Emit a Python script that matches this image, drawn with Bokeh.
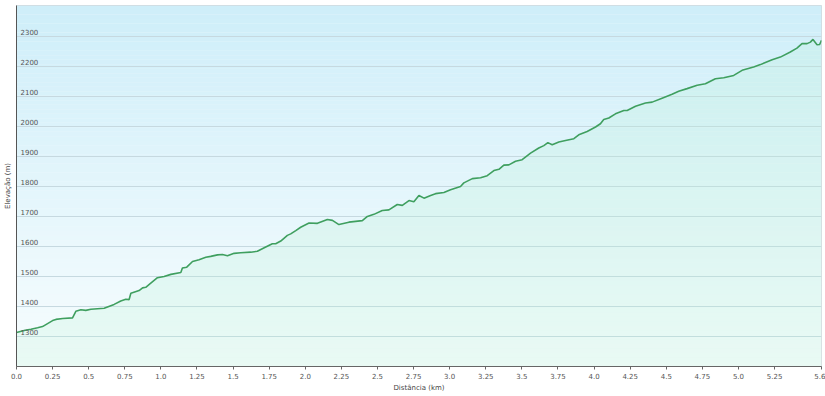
import numpy as np
from bokeh.plotting import figure
from bokeh.models import ColumnDataSource, FixedTicker, Range1d
from bokeh.core.properties import value
from bokeh.embed import file_html
from bokeh.resources import INLINE

# ---- data ----
dist_km = [0.0, 0.06, 0.10, 0.146, 0.18, 0.25, 0.273, 0.32, 0.388, 0.411, 0.446, 0.48, 0.515,
           0.607, 0.676, 0.722, 0.757, 0.78, 0.792, 0.849, 0.873, 0.895, 0.93, 0.976, 1.022,
           1.069, 1.138, 1.149, 1.179, 1.219, 1.264, 1.311, 1.345, 1.392, 1.426, 1.461, 1.507,
           1.553, 1.622, 1.668, 1.726, 1.772, 1.795, 1.830, 1.876, 1.899, 1.934, 1.968, 2.026,
           2.084, 2.153, 2.188, 2.233, 2.302, 2.395, 2.43, 2.475, 2.533, 2.579, 2.637, 2.672,
           2.718, 2.752, 2.787, 2.822, 2.868, 2.902, 2.96, 3.006, 3.075, 3.098, 3.157, 3.214,
           3.26, 3.306, 3.341, 3.375, 3.41, 3.456, 3.502, 3.56, 3.617, 3.652, 3.68, 3.71, 3.756,
           3.802, 3.86, 3.894, 3.952, 4.01, 4.044, 4.067, 4.102, 4.148, 4.206, 4.229, 4.287,
           4.356, 4.402, 4.471, 4.54, 4.586, 4.644, 4.714, 4.771, 4.84, 4.898, 4.967, 5.025,
           5.105, 5.152, 5.233, 5.29, 5.359, 5.405, 5.44, 5.475, 5.498, 5.516, 5.544, 5.562,
           5.575]
elev_m = [1313, 1321, 1324, 1329, 1333, 1353, 1357, 1360, 1362, 1384, 1389, 1387, 1391,
          1394, 1407, 1418, 1424, 1423, 1444, 1453, 1462, 1464, 1478, 1496, 1500,
          1507, 1513, 1528, 1531, 1550, 1556, 1564, 1567, 1572, 1573, 1569, 1577,
          1579, 1581, 1584, 1598, 1609, 1609, 1618, 1637, 1642, 1653, 1664, 1678,
          1677, 1690, 1687, 1673, 1681, 1686, 1700, 1707, 1720, 1722, 1740, 1737,
          1753, 1749, 1770, 1761, 1770, 1776, 1780, 1789, 1800, 1812, 1826, 1829,
          1836, 1853, 1857, 1871, 1872, 1884, 1889, 1911, 1928, 1936, 1946, 1939, 1948,
          1953, 1959, 1972, 1983, 1998, 2009, 2023, 2028, 2042, 2053, 2053, 2067,
          2078, 2081, 2094, 2107, 2117, 2126, 2137, 2142, 2159, 2162, 2170, 2187,
          2198, 2206, 2222, 2231, 2248, 2261, 2276, 2276, 2281, 2290, 2272, 2273,
          2287]

x_ticks = [0.0, 0.25, 0.5, 0.75, 1.0, 1.25, 1.5, 1.75, 2.0, 2.25, 2.5, 2.75, 3.0, 3.25,
           3.5, 3.75, 4.0, 4.25, 4.5, 4.75, 5.0, 5.25, 5.575]
x_tick_labels = ["0.0", "0.25", "0.5", "0.75", "1.0", "1.25", "1.5", "1.75", "2.0", "2.25",
                 "2.5", "2.75", "3.0", "3.25", "3.5", "3.75", "4.0", "4.25", "4.5", "4.75",
                 "5.0", "5.25", "5.6"]
y_ticks = [1300, 1400, 1500, 1600, 1700, 1800, 1900, 2000, 2100, 2200, 2300]
y_tick_labels = ["1300", "1400", "1500", "1600", "1700", "1800", "1900", "2000", "2100",
                 "2200", "2300"]

x_title = "Distância (km)"
y_title = "Elevação (m)"

X0, X1 = 0.0, dist_km[-1]
Y0, Y1 = 1200, 2403

FONT = "DejaVu Sans"

p = figure(width=825, height=396, output_backend="svg", toolbar_location=None,
           x_range=Range1d(X0, X1), y_range=Range1d(Y0, Y1),
           min_border_left=0, min_border_right=4, min_border_top=5, min_border_bottom=30)

p.outline_line_color = "#d0d8dc"
p.background_fill_color = "#eef8fc"
p.border_fill_color = "white"

# background gradient (blue at top fading to pale)
nb = 80
edges = np.linspace(Y0, Y1, nb + 1)
top_c = np.array([206, 238, 249])
bot_c = np.array([248, 253, 254])
cols = []
for i in range(nb):
    t = (i + 0.5) / nb
    c = bot_c + (top_c - bot_c) * t
    cols.append("#%02x%02x%02x" % tuple(int(round(v)) for v in c))
bands = p.quad(left=X0, right=X1, bottom=edges[:-1], top=edges[1:], fill_color=cols,
               line_color=None)
bands.level = "image"

src = ColumnDataSource(dict(x=dist_km, y=elev_m, base=[Y0] * len(dist_km)))
p.varea(x="x", y1="base", y2="y", source=src, fill_color="#b8f2d0", fill_alpha=0.22)
p.line(x="x", y="y", source=src, line_color="#3f9f5f", line_width=1.6)

# y labels inside the plot above gridlines
lsrc = ColumnDataSource(dict(x=[X0] * len(y_ticks), y=y_ticks, t=y_tick_labels))
p.text(x="x", y="y", text="t", source=lsrc, x_offset=4, y_offset=-1,
       text_font=value(FONT), text_font_size="7px", text_color="#555555",
       text_baseline="bottom", text_align="left")

# axes
p.xaxis.ticker = FixedTicker(ticks=x_ticks)
p.xaxis.major_label_overrides = {t: l for t, l in zip(x_ticks, x_tick_labels)}
p.xaxis.axis_label = x_title
p.xaxis.axis_label_text_font = FONT
p.xaxis.axis_label_text_font_size = "7px"
p.xaxis.axis_label_text_font_style = "normal"
p.xaxis.axis_label_text_color = "#444444"
p.xaxis.axis_label_standoff = 2
p.xaxis.major_label_text_font = FONT
p.xaxis.major_label_text_font_size = "7px"
p.xaxis.major_label_text_color = "#555555"
p.xaxis.major_label_standoff = 3
p.xaxis.major_tick_in = 0
p.xaxis.major_tick_out = 3
p.xaxis.minor_tick_line_color = None
p.xaxis.axis_line_color = "#666666"
p.xaxis.major_tick_line_color = "#666666"

p.yaxis.ticker = FixedTicker(ticks=[])
p.yaxis.axis_label = y_title
p.yaxis.axis_label_text_font = FONT
p.yaxis.axis_label_text_font_size = "7px"
p.yaxis.axis_label_text_font_style = "normal"
p.yaxis.axis_label_text_color = "#444444"
p.yaxis.axis_label_standoff = 5
p.yaxis.major_label_standoff = 0
p.yaxis.major_tick_in = 0
p.yaxis.major_tick_out = 0
p.yaxis.minor_tick_line_color = None
p.yaxis.axis_line_color = "#555555"

p.xgrid.grid_line_color = None
p.ygrid.ticker = FixedTicker(ticks=y_ticks)
p.ygrid.grid_line_color = "#c6d9e0"
p.ygrid.grid_line_width = 1

open("out.html", "w").write(file_html(p, INLINE))
